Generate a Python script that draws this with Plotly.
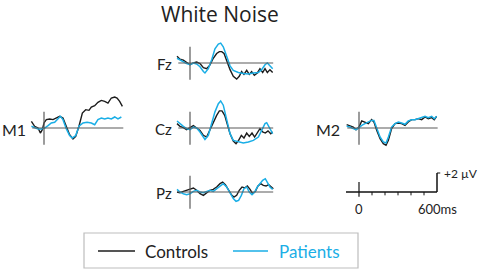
import plotly.graph_objects as go

# ---------------- data (time in ms, amplitude in µV) ----------------
t_fz_pat = [-100, -77, -51, -26, 0, 26, 51, 77, 103, 115, 141, 167, 192, 218, 236, 256, 282, 308, 333, 372, 410, 449, 487, 526, 551, 577, 595, 615, 636]
v_fz_pat = [0.5, 0.3, 0.1, -0.07, -0.18, 0.0, -0.1, -0.4, -0.9, -1.05, -0.6, 0.35, 1.5, 2.0, 2.1, 1.7, 0.7, -0.3, -0.77, -1.0, -1.1, -1.15, -1.05, -1.0, -0.7, -0.18, 0.0, -0.3, -0.6]
t_fz_ctl = [-100, -77, -51, -26, 0, 26, 51, 77, 103, 128, 154, 179, 205, 226, 244, 262, 282, 308, 333, 359, 379, 397, 415, 436, 456, 474, 495, 518, 538, 559, 577, 595, 615, 636]
v_fz_ctl = [0.7, 0.4, 0.3, 0.07, -0.18, 0.0, 0.1, -0.07, -0.5, -0.6, -0.2, 0.5, 1.0, 1.2, 1.2, 1.0, 0.2, -0.7, -1.4, -1.7, -1.4, -0.9, -1.2, -0.77, -1.2, -0.9, -1.3, -1.05, -0.6, -1.0, -0.6, -1.0, -0.7, -1.0]

t_cz_pat = [-100, -77, -51, -26, 0, 26, 51, 77, 103, 115, 141, 167, 192, 218, 236, 256, 282, 308, 333, 372, 410, 449, 487, 526, 551, 577, 590, 610, 636]
v_cz_pat = [0.74, 0.45, 0.18, -0.07, -0.18, 0.1, 0.0, -0.42, -1.0, -1.2, -0.77, 0.63, 1.7, 2.56, 2.85, 2.4, 1.0, -0.6, -1.3, -1.47, -1.58, -1.47, -1.3, -0.95, -0.25, 0.46, 0.56, 0.1, -0.6]
t_cz_ctl = [-100, -77, -51, -26, 0, 26, 51, 77, 103, 128, 154, 179, 205, 226, 246, 267, 287, 308, 333, 354, 374, 395, 415, 436, 456, 477, 497, 518, 538, 559, 579, 600, 621, 636]
v_cz_ctl = [0.46, 0.18, 0.03, -0.18, 0.03, 0.25, 0.0, -0.25, -0.77, -0.95, -0.18, 0.63, 1.33, 1.8, 1.8, 1.33, 0.46, -0.6, -1.37, -1.65, -1.3, -0.77, -1.05, -0.53, -0.88, -0.53, -0.95, -0.53, -0.07, -0.42, -0.53, -0.3, -0.6, -0.42]

t_pz_pat = [-100, -77, -51, -26, 0, 26, 51, 77, 103, 128, 154, 179, 205, 231, 256, 282, 308, 333, 354, 374, 395, 415, 436, 456, 477, 497, 518, 538, 559, 579, 595, 615, 636]
v_pz_pat = [0.28, 0.0, -0.18, -0.28, -0.18, 0.07, 0.18, 0.0, -0.07, 0.07, 0.18, 0.07, 0.35, 0.7, 0.88, 0.53, -0.18, -0.7, -0.98, -0.88, -0.35, 0.35, 0.53, 0.0, -0.28, 0.0, 0.53, 0.88, 1.23, 1.4, 1.05, 0.53, 0.28]
t_pz_ctl = [-100, -77, -51, -26, 0, 26, 51, 77, 103, 128, 154, 179, 205, 231, 251, 272, 295, 318, 338, 359, 379, 400, 420, 441, 462, 482, 503, 523, 544, 564, 585, 605, 626, 641]
v_pz_ctl = [0.0, -0.07, 0.07, 0.18, 0.28, 0.42, 0.18, -0.18, -0.35, -0.07, 0.18, 0.28, 0.53, 0.88, 1.05, 0.77, 0.28, -0.28, -0.53, -0.35, 0.18, 0.53, 0.42, 0.63, 0.28, -0.18, 0.07, 0.63, 0.88, 0.7, 0.63, 0.77, 0.53, 0.35]

t_m1_ctl = [-97, -72, -46, -28, -13, 0, 18, 44, 69, 95, 121, 146, 172, 197, 223, 244, 269, 295, 321, 346, 364, 390, 415, 441, 467, 492, 518, 544, 562, 582, 603]
v_m1_ctl = [0.7, 0.18, 0.0, -0.53, -0.18, 0.53, 0.88, 0.95, 0.88, 1.05, 1.23, 1.05, 0.18, -0.7, -1.16, -0.88, 0.18, 1.58, 1.93, 1.86, 2.2, 2.35, 2.7, 2.9, 2.8, 2.63, 3.16, 3.26, 3.16, 2.8, 2.28]
t_m1_pat = [-97, -72, -46, -21, 5, 31, 56, 82, 108, 126, 146, 172, 197, 218, 244, 269, 300, 331, 364, 390, 415, 441, 467, 492, 518, 544, 569, 595]
v_m1_pat = [0.18, 0.0, -0.1, -0.1, 0.0, 0.25, 0.53, 0.6, 0.95, 1.23, 0.88, -0.1, -0.8, -1.05, -0.8, 0.18, 0.53, 0.6, 0.53, 0.35, 0.88, 1.05, 0.95, 1.05, 0.95, 1.16, 0.95, 1.16]

t_m2 = [-95, -69, -44, -23, 0, 21, 46, 72, 97, 115, 136, 162, 187, 208, 226, 251, 277, 303, 328, 354, 379, 405, 431, 456, 482, 508, 533, 559, 579, 597]
v_m2_ctl = [0.35, 0.18, 0.1, -0.18, 0.1, 0.74, 0.63, 0.46, 0.88, 0.63, -0.25, -1.12, -1.65, -1.82, -1.3, -0.07, 0.46, 0.53, 0.46, 0.28, 0.63, 0.88, 0.88, 0.98, 0.88, 1.16, 0.98, 1.09, 0.88, 1.23]
v_m2_pat = [0.18, 0.1, -0.07, -0.18, 0.03, 0.28, 0.46, 0.63, 0.8, 0.8, -0.07, -0.95, -1.47, -1.58, -0.95, 0.1, 0.46, 0.63, 0.53, 0.39, 0.74, 0.88, 0.88, 0.98, 1.16, 1.23, 1.09, 1.23, 0.98, 1.23]

scale_ticks = [0, 100, 200, 300, 400, 500, 600]
scale_uv = 2
title = "White Noise"
series_names = ["Controls", "Patients"]

# ---------------- styling ----------------
W, H = 482, 271
PX_MS = 0.13
PX_UV = 9.5
T0, T1 = -150, 700
V0, V1 = -4, 4
C_CTL = "#1c1c1c"
C_PAT = "#1aaee6"
C_AX = "#5a5a5a"
TXT = "#222222"
FONT = "Lato"

fig = go.Figure()
layout = dict(width=W, height=H, margin=dict(l=0, r=0, t=0, b=0),
              paper_bgcolor="white", plot_bgcolor="rgba(0,0,0,0)",
              showlegend=False)
shapes = []
annotations = []


def px(x):
    return x / W


def py(y):
    return 1 - y / H


def make_axis(i, zero_px, base_px):
    xk = "xaxis" if i == 1 else f"xaxis{i}"
    yk = "yaxis" if i == 1 else f"yaxis{i}"
    layout[xk] = dict(domain=[px(zero_px + T0 * PX_MS), px(zero_px + T1 * PX_MS)],
                      range=[T0, T1], visible=False, fixedrange=True,
                      anchor=f"y{i if i > 1 else ''}")
    layout[yk] = dict(domain=[py(base_px - V0 * PX_UV), py(base_px - V1 * PX_UV)],
                      range=[V0, V1], visible=False, fixedrange=True,
                      anchor=f"x{i if i > 1 else ''}")
    return (f"x{i if i > 1 else ''}", f"y{i if i > 1 else ''}")


panels = [
    # name, zero px, baseline px, t_ctl, v_ctl, t_pat, v_pat, t_end, label pos, label size
    ("Fz", 190, 63, t_fz_ctl, v_fz_ctl, t_fz_pat, v_fz_pat, 640, 174, 15),
    ("Cz", 190, 128, t_cz_ctl, v_cz_ctl, t_cz_pat, v_cz_pat, 640, 174, 15),
    ("Pz", 190, 192, t_pz_ctl, v_pz_ctl, t_pz_pat, v_pz_pat, 640, 174, 15),
    ("M1", 44, 128, t_m1_ctl, v_m1_ctl, t_m1_pat, v_m1_pat, 610, 28, 16),
    ("M2", 359, 128, t_m2, v_m2_ctl, t_m2, v_m2_pat, 605, 342, 16),
]

for i, (name, zx, by, tc, vc, tp, vp, tend, lx, ls) in enumerate(panels, start=1):
    xa, ya = make_axis(i, zx, by)
    shapes.append(dict(type="line", xref=xa, yref=ya, x0=-90, x1=tend, y0=0, y1=0,
                       line=dict(color=C_AX, width=1.2)))
    shapes.append(dict(type="line", xref=xa, yref=ya, x0=0, x1=0, y0=-1.75, y1=1.7,
                       line=dict(color=C_AX, width=1.2)))
    fig.add_trace(go.Scatter(x=tc, y=vc, mode="lines", xaxis=xa, yaxis=ya,
                             line=dict(color=C_CTL, width=1.4), name="Controls"))
    fig.add_trace(go.Scatter(x=tp, y=vp, mode="lines", xaxis=xa, yaxis=ya,
                             line=dict(color=C_PAT, width=1.5), name="Patients"))
    annotations.append(dict(text=name, xref="paper", yref="paper", x=px(lx), y=py(by + 1),
                            xanchor="right", yanchor="middle", showarrow=False,
                            font=dict(family=FONT, size=ls, color=TXT)))

# scale bar axis
xa, ya = make_axis(6, 359, 192)
shapes.append(dict(type="line", xref=xa, yref=ya, x0=-100, x1=scale_ticks[-1], y0=0, y1=0,
                   line=dict(color="#111", width=1.5)))
for tv in scale_ticks[1:-1]:
    shapes.append(dict(type="line", xref=xa, yref=ya, x0=tv, x1=tv, y0=0, y1=-0.35,
                       line=dict(color="#111", width=1)))
shapes.append(dict(type="line", xref=xa, yref=ya, x0=0, x1=0, y0=1.05, y1=-0.5,
                   line=dict(color="#111", width=1.2)))
shapes.append(dict(type="line", xref=xa, yref=ya, x0=scale_ticks[-1], x1=scale_ticks[-1],
                   y0=0, y1=scale_uv, line=dict(color="#111", width=1.5)))
shapes.append(dict(type="line", xref=xa, yref=ya, x0=scale_ticks[-1], x1=scale_ticks[-1] + 25,
                   y0=scale_uv, y1=scale_uv, line=dict(color="#111", width=1.2)))
annotations.append(dict(text="+2 µV", xref="paper", yref="paper", x=px(442), y=py(173),
                        xanchor="left", yanchor="middle", showarrow=False,
                        font=dict(family=FONT, size=12, color=TXT)))
annotations.append(dict(text="0", xref=xa, yref=ya, x=0, y=-1.75, xanchor="center",
                        yanchor="middle", showarrow=False,
                        font=dict(family=FONT, size=13, color=TXT)))
annotations.append(dict(text="600ms", xref=xa, yref=ya, x=scale_ticks[-1], y=-1.75,
                        xanchor="center", yanchor="middle", showarrow=False,
                        font=dict(family=FONT, size=13, color=TXT)))

# title
annotations.append(dict(text=title, xref="paper", yref="paper", x=px(220), y=py(14),
                        xanchor="center", yanchor="middle", showarrow=False,
                        font=dict(family="Open Sans", size=21, color=TXT)))

# legend box
shapes.append(dict(type="rect", xref="paper", yref="paper", x0=px(84), x1=px(358),
                   y0=py(268), y1=py(233), line=dict(color="#bdbdbd", width=1.2),
                   fillcolor="white"))
shapes.append(dict(type="line", xref="paper", yref="paper", x0=px(98), x1=px(135),
                   y0=py(251), y1=py(251), line=dict(color=C_CTL, width=1.5)))
shapes.append(dict(type="line", xref="paper", yref="paper", x0=px(233), x1=px(268),
                   y0=py(251), y1=py(251), line=dict(color=C_PAT, width=1.5)))
annotations.append(dict(text=series_names[0], xref="paper", yref="paper", x=px(143), y=py(251),
                        xanchor="left", yanchor="middle", showarrow=False,
                        font=dict(family=FONT, size=17, color=TXT)))
annotations.append(dict(text=series_names[1], xref="paper", yref="paper", x=px(277), y=py(251),
                        xanchor="left", yanchor="middle", showarrow=False,
                        font=dict(family=FONT, size=17, color=C_PAT)))

layout["shapes"] = shapes
layout["annotations"] = annotations
fig.update_layout(**layout)
fig.write_html("out.html", config={"displayModeBar": False},
               post_script="document.body.style.margin='0';document.body.style.overflow='hidden';")
